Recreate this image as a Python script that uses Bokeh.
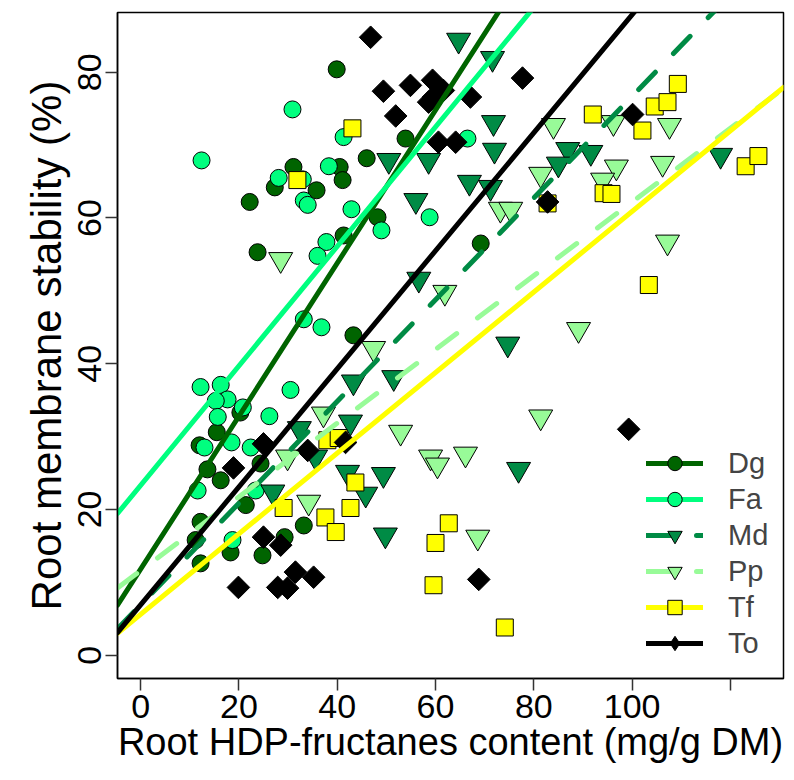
import numpy as np
from bokeh.plotting import figure
from bokeh.models import Range1d, Legend, LegendItem, FixedTicker, Title
from bokeh.embed import file_html
from bokeh.resources import INLINE

# ---------------- data ----------------
dg_x = [39.9, 31.1, 40.5, 41.1, 27.3, 35.8, 22.2, 46.0, 53.9, 48.2, 41.3, 69.2, 23.8, 43.3,
        15.5, 20.3, 12.0, 13.6, 16.3, 24.4, 21.4, 12.2, 11.2, 18.3, 12.2, 24.8, 29.3, 33.2]
dg_y = [80.4, 67.0, 67.0, 65.2, 64.2, 63.8, 62.2, 68.2, 70.9, 60.1, 57.6, 56.5, 55.3, 43.9,
        30.6, 33.3, 28.8, 25.5, 24.0, 26.3, 20.6, 18.3, 15.8, 14.1, 12.6, 13.7, 16.2, 17.8]

fa_x = [12.4, 30.9, 41.3, 38.3, 28.1, 33.0, 33.2, 34.0, 42.9, 37.8, 66.5, 58.8, 49.0, 36.0, 33.2,
        36.8, 12.2, 16.3, 17.7, 15.3, 20.8, 15.7, 30.5, 26.2, 18.5, 22.4, 13.0, 11.6, 23.4, 18.7]
fa_y = [67.9, 74.9, 71.1, 67.1, 65.5, 65.3, 62.4, 61.8, 61.2, 56.7, 70.9, 60.1, 58.3, 54.8, 46.1,
        45.0, 36.8, 37.1, 35.1, 34.9, 34.0, 32.7, 36.4, 32.8, 29.2, 28.5, 28.5, 22.6, 22.6, 15.8]

md_x = [64.7, 71.6, 71.8, 50.5, 58.6, 72.0, 66.9, 71.2, 56.0, 86.9, 91.6, 85.0, 118.0, 56.6, 74.7,
        43.3, 51.5, 42.7, 76.9, 42.1, 49.4, 45.8, 49.8, 32.3, 35.6, 26.9]
md_y = [84.4, 81.9, 73.1, 67.9, 67.9, 69.3, 64.9, 64.2, 62.4, 69.4, 69.0, 67.4, 68.6, 51.6, 42.7,
        37.5, 38.1, 32.0, 25.5, 25.1, 24.8, 22.1, 16.5, 31.1, 27.2, 22.4]

pp_x = [84.0, 81.4, 73.2, 75.3, 96.2, 107.6, 96.8, 106.2, 94.0, 107.2, 89.1, 61.9, 47.4, 81.4,
        52.9, 59.0, 60.4, 66.1, 68.6, 28.5, 37.2, 29.9, 34.2]
pp_y = [72.7, 66.0, 61.2, 61.2, 73.1, 72.7, 67.0, 67.5, 65.2, 56.7, 44.7, 49.8, 42.1, 32.7,
        30.6, 27.2, 26.1, 27.6, 16.2, 54.3, 33.1, 27.2, 21.0]

tf_x = [43.1, 31.9, 109.3, 92.0, 104.6, 107.2, 102.1, 94.2, 95.8, 123.1, 125.7, 103.4, 82.8,
        29.1, 37.6, 39.7, 42.7, 43.7, 62.7, 60.0, 59.6, 74.1, 38.0, 40.3]
tf_y = [72.3, 65.2, 78.4, 74.2, 75.3, 75.9, 72.0, 63.4, 63.3, 67.1, 68.5, 50.8, 62.0,
        20.2, 18.9, 16.9, 20.2, 23.7, 18.1, 15.4, 9.6, 3.8, 29.5, 29.8]

to_x = [46.8, 49.4, 54.9, 59.4, 59.6, 61.6, 67.1, 77.7, 51.9, 60.6, 64.1, 58.6, 82.8, 100.1,
        99.3, 68.8, 25.0, 18.9, 34.0, 25.0, 28.5, 19.9, 31.5, 35.2, 27.9, 29.9, 41.7]
to_y = [84.8, 77.4, 78.2, 78.9, 76.6, 77.5, 76.6, 79.2, 74.0, 70.4, 70.4, 75.9, 62.2, 74.2,
        31.0, 10.4, 29.0, 25.7, 28.1, 16.2, 15.1, 9.3, 11.4, 10.7, 9.3, 9.2, 29.2]

species = ["Dg", "Fa", "Md", "Pp", "Tf", "To"]
# fitted lines: intercept and slope per species
intercepts = [11.8, 23.3, 6.9, 11.6, 5.6, 6.9]
slopes = [1.05, 0.82, 0.698, 0.506, 0.553, 0.81]

x_ticks = [0, 20, 40, 60, 80, 100, 120]
y_ticks = [0, 20, 40, 60, 80]

# ---------------- styling ----------------
FONT = "Liberation Sans"
colors = ["#006400", "#00FF7F", "#008B45", "#98FB98", "#FFFF00", "#000000"]
markers = ["circle", "circle", "inverted_triangle", "inverted_triangle", "square", "square"]
legend_markers = ["circle", "circle", "inverted_triangle", "inverted_triangle", "square", "diamond"]
sizes = [17, 17, 24, 24, 17, 16]
angles = [0, 0, 0, 0, 0, np.pi / 4]
dashes = ["solid", "solid", "24 26", "24 26", "solid", "solid"]

xs_all = [dg_x, fa_x, md_x, pp_x, tf_x, to_x]
ys_all = [dg_y, fa_y, md_y, pp_y, tf_y, to_y]

XLO, XHI = -4.7, 130.8
p = figure(width=790, height=778, output_backend="svg", toolbar_location=None,
           x_range=Range1d(XLO, XHI), y_range=Range1d(-3.2, 88.2),
           min_border_left=117, min_border_right=7, min_border_top=12, min_border_bottom=100)

p.xgrid.visible = False
p.ygrid.visible = False
p.outline_line_color = "black"
p.outline_line_width = 1.5
p.background_fill_color = "white"
p.border_fill_color = "white"

p.xaxis.ticker = FixedTicker(ticks=x_ticks)
p.xaxis.major_label_overrides = {120: ""}
p.yaxis.ticker = FixedTicker(ticks=y_ticks)
for ax in (p.xaxis, p.yaxis):
    ax.minor_tick_line_color = None
    ax.major_tick_in = 0
    ax.major_tick_out = 12
    ax.major_tick_line_width = 1.5
    ax.major_tick_line_color = "#333333"
    ax.axis_line_color = "black"
    ax.axis_line_width = 1.5
    ax.major_label_text_font = FONT
    ax.major_label_text_font_size = "34px"
    ax.major_label_text_color = "black"
    ax.axis_label_text_font = FONT
    ax.axis_label_text_font_style = "normal"
    ax.axis_label_text_color = "black"
    ax.major_label_standoff = 4
    ax.axis_label_standoff = 0

p.xaxis.axis_label = "Root HDP-fructanes content (mg/g DM)"
p.xaxis.axis_label_text_font_size = "38px"
p.yaxis.major_label_orientation = "vertical"

# y axis title placed as a side title so it can be shifted like the reference
ytitle = Title(text="Root membrane stability (%)", align="center", offset=25,
               text_font=FONT, text_font_size="42px", text_font_style="normal",
               text_color="black", standoff=12)
p.add_layout(ytitle, "left")

scatter_r = []
for i in range(6):
    r = p.scatter(xs_all[i], ys_all[i], marker=markers[i], size=sizes[i], angle=angles[i],
                  fill_color=colors[i], line_color="black", line_width=1)
    scatter_r.append(r)

line_r = []
lx = np.array([XLO, XHI])
for i in range(6):
    ly = intercepts[i] + slopes[i] * lx
    r = p.line(lx, ly, line_color=colors[i], line_width=5, line_dash=dashes[i], line_cap="round")
    line_r.append(r)

# legend key markers (a single missing value each, so nothing is drawn in the plot area)
key_r = []
for i in range(6):
    r = p.scatter(x=[np.nan], y=[np.nan], marker=legend_markers[i], fill_color=colors[i],
                  line_color="black", line_width=1)
    key_r.append(r)

items = [LegendItem(label=species[i], renderers=[line_r[i], key_r[i]]) for i in range(6)]
legend = Legend(items=items, location=(529, 17), padding=0, margin=0, spacing=0,
                glyph_width=57, glyph_height=36, label_height=36, label_standoff=25,
                label_text_font=FONT, label_text_font_size="29px",
                border_line_alpha=0, background_fill_alpha=0)
p.add_layout(legend)

open("out.html", "w").write(file_html(p, INLINE))
